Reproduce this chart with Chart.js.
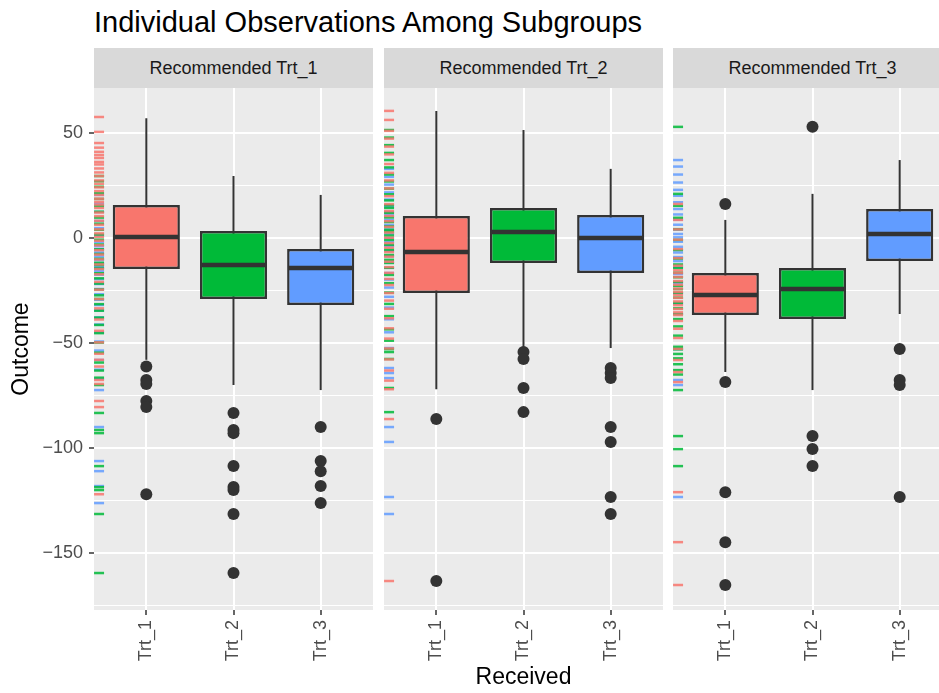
<!DOCTYPE html>
<html>
<head>
<meta charset="utf-8">
<script src="https://cdn.jsdelivr.net/npm/chart.js@4/dist/chart.umd.min.js"></script>
<style>
body { margin:0; width:939px; height:693px; overflow:hidden; background:#fff; font-family:'Liberation Sans', Arial, sans-serif; position:relative; }
.title { position:absolute; left:94px; top:8px; font-size:29px; line-height:29px; color:#000; white-space:nowrap; }
.strip { position:absolute; top:48px; height:40px; line-height:40px; background:#d9d9d9; color:#1a1a1a; font-size:18px; text-align:center; white-space:nowrap; overflow:hidden; }
canvas { position:absolute; top:88px; }
</style>
</head>
<body>
<div class="title">Individual Observations Among Subgroups</div>
<div class="strip" style="left:94px;width:279px">Recommended Trt_1</div>
<div class="strip" style="left:384px;width:279px">Recommended Trt_2</div>
<div class="strip" style="left:673px;width:279px">Recommended Trt_3</div>
<canvas id="c1" width="373" height="605" style="left:0"></canvas>
<canvas id="c2" width="279" height="605" style="left:384px"></canvas>
<canvas id="c3" width="279" height="605" style="left:673px"></canvas>
<script>
const received = ['Trt_1', 'Trt_2', 'Trt_3'];
const colors = ['#F8766D', '#00BA38', '#619CFF'];
const rugColors = ['rgba(248,118,109,0.85)', 'rgba(0,186,56,0.85)', 'rgba(97,156,255,0.85)'];
const yTicks = [-175, -150, -125, -100, -75, -50, -25, 0, 25, 50];

// Recommended Trt_1
const p1Low = [-58.0, -70.0, -72.4];
const p1Q1 = [-14.8, -29.0, -31.9];
const p1Median = [0.5, -12.9, -14.3];
const p1Q3 = [15.7, 3.3, -5.2];
const p1High = [57.0, 29.5, 20.5];
const p1Outliers = [
  [-61.2, -67.6, -69.5, -77.6, -80.5, -122.0],
  [-83.3, -91.4, -92.9, -108.6, -118.6, -120.0, -131.4, -159.5],
  [-90.0, -106.2, -111.0, -118.1, -126.2]
];
const p1RugTrt1 = [57.6, 50.5, 45.2, 43.0, 41.0, 39.5, 38.1, 36.2, 35.0, 33.1, 31.2, 29.5, 27.4, 25.8, 24.1, 22.3, 20.5, 18.7, 17.2, 15.9, 14.3, 12.1, 10.4, 8.2, 6.3, 4.1, 2.2, 0.5, -1.3, -3.5, -5.8, -7.9, -10.2, -12.6, -14.8, -17.3, -20.9, -24.6, -29.1, -33.5, -38.8, -44.2, -49.7, -55.1, -58.0, -61.2, -67.6, -69.5, -77.6, -80.5, -122.0];
const p1RugTrt2 = [29.5, 27.0, 24.4, 21.3, 18.6, 15.2, 12.5, 9.7, 6.8, 3.9, 1.6, -0.8, -3.1, -5.4, -7.6, -9.9, -11.8, -12.9, -14.5, -16.8, -19.2, -21.7, -24.5, -27.3, -29.0, -31.5, -34.6, -37.9, -41.4, -45.3, -49.8, -54.6, -59.3, -63.1, -66.5, -70.0, -83.3, -91.4, -92.9, -108.6, -118.6, -120.0, -131.4, -159.5];
const p1RugTrt3 = [20.5, 16.3, 12.4, 8.1, 4.7, 1.2, -1.9, -3.8, -5.2, -6.9, -8.8, -10.5, -12.2, -13.6, -14.3, -15.8, -17.5, -19.6, -21.9, -24.3, -26.8, -29.4, -31.9, -34.5, -37.8, -41.2, -45.0, -49.3, -53.6, -58.1, -62.7, -67.0, -72.4, -90.0, -106.2, -111.0, -118.1, -126.2];

// Recommended Trt_2
const p2Low = [-72.0, -52.9, -52.4];
const p2Q1 = [-26.2, -11.9, -16.7];
const p2Median = [-6.7, 2.9, 0.0];
const p2Q3 = [10.5, 14.3, 11.0];
const p2High = [60.5, 51.4, 32.9];
const p2Outliers = [
  [-86.2, -163.3],
  [-54.3, -57.6, -71.4, -82.9],
  [-61.9, -64.3, -66.7, -90.0, -97.1, -123.3, -131.4]
];
const p2RugTrt1 = [60.5, 56.2, 51.0, 47.3, 43.5, 39.8, 35.2, 31.0, 27.4, 23.6, 19.9, 16.1, 12.8, 10.5, 8.0, 5.3, 2.6, 0.1, -2.4, -4.6, -6.7, -8.9, -11.3, -13.9, -16.6, -19.5, -22.4, -26.2, -29.8, -33.7, -38.2, -43.0, -47.9, -52.6, -57.8, -63.1, -67.9, -72.0, -86.2, -163.3];
const p2RugTrt2 = [51.4, 47.8, 44.2, 40.5, 37.1, 33.6, 30.2, 26.9, 23.5, 20.8, 17.9, 15.6, 14.3, 12.0, 9.8, 7.6, 5.5, 3.9, 2.9, 1.2, -0.9, -3.2, -5.6, -8.1, -10.4, -11.9, -14.2, -17.6, -21.5, -26.0, -31.4, -37.2, -43.5, -48.9, -52.9, -54.3, -57.6, -71.4, -82.9];
const p2RugTrt3 = [32.9, 29.1, 25.4, 21.7, 18.3, 15.0, 12.4, 11.0, 8.6, 6.2, 4.0, 2.1, 0.0, -1.9, -3.8, -6.1, -8.7, -11.5, -14.2, -16.7, -19.8, -23.6, -28.0, -33.1, -38.7, -44.9, -52.4, -61.9, -64.3, -66.7, -90.0, -97.1, -123.3, -131.4];

// Recommended Trt_3
const p3Low = [-63.8, -72.4, -36.2];
const p3Q1 = [-36.7, -38.6, -11.0];
const p3Median = [-27.1, -24.3, 1.9];
const p3Q3 = [-16.7, -14.3, 13.8];
const p3High = [8.6, 21.0, 37.1];
const p3Outliers = [
  [16.2, -68.6, -121.0, -144.8, -165.2],
  [52.9, -94.3, -100.5, -108.6],
  [-52.9, -67.6, -70.0, -123.3]
];
const p3RugTrt1 = [16.2, 8.6, 4.1, -0.8, -5.3, -9.6, -13.2, -15.4, -16.7, -18.6, -20.5, -22.3, -24.1, -25.6, -27.1, -28.5, -30.2, -32.0, -33.8, -35.4, -36.7, -39.5, -43.2, -47.6, -52.8, -58.1, -63.8, -68.6, -121.0, -144.8, -165.2];
const p3RugTrt2 = [52.9, 21.0, 15.3, 9.6, 4.2, -0.9, -5.7, -9.8, -12.6, -14.3, -16.5, -18.7, -20.9, -22.8, -24.3, -26.1, -28.4, -30.9, -33.5, -36.2, -38.6, -42.1, -46.5, -51.8, -53.0, -55.2, -57.3, -60.1, -62.9, -65.0, -72.4, -94.3, -100.5, -108.6];
const p3RugTrt3 = [37.1, 34.0, 30.2, 26.4, 22.9, 20.1, 17.0, 13.8, 11.2, 8.7, 6.3, 4.0, 1.9, 0.3, -1.8, -4.2, -6.9, -9.1, -11.0, -13.8, -17.2, -21.5, -26.3, -31.2, -36.2, -52.9, -67.6, -70.0, -123.3];

const xMin = 0.4, xMax = 3.6, yMin = -177.1, yMax = 71.4;
const dark = '#333333';
const fontFam = "'Liberation Sans', Arial, sans-serif";

const panelBg = {
  id: 'panelBg',
  beforeDraw(chart) {
    const a = chart.chartArea, c = chart.ctx;
    c.save();
    c.fillStyle = '#ebebeb';
    c.fillRect(a.left, a.top, a.right - a.left, a.bottom - a.top);
    c.restore();
  }
};

function fmt(v) {
  return v < 0 ? '\u2212' + Math.abs(v) : String(v);
}

function buildConfig(low, q1, med, q3, high, outliers, rugs, first, middle) {
  const ds = [];
  received.forEach((r, i) => {
    const x = i + 1;
    ds.push({
      type: 'scatter', order: 0,
      data: outliers[i].map(v => ({ x: x, y: v })),
      pointRadius: 6, backgroundColor: dark, borderWidth: 0
    });
    ds.push({
      type: 'scatter', order: 1, showLine: true,
      data: [{ x: x - 0.375, y: med[i] }, { x: x + 0.375, y: med[i] }],
      pointRadius: 0, borderColor: dark, borderWidth: 4.5, borderCapStyle: 'butt'
    });
    ds.push({
      type: 'scatter', order: 3, showLine: true,
      data: [{ x: x, y: low[i] }, { x: x, y: high[i] }],
      pointRadius: 0, borderColor: dark, borderWidth: 2
    });
    ds.push({
      type: 'scatter', order: 4,
      data: rugs[i].map(v => ({ x: xMin + 0.058, y: v })),
      pointStyle: 'line', pointRadius: 5, borderWidth: 2.5,
      borderColor: rugColors[i], backgroundColor: rugColors[i]
    });
  });
  ds.push({
    type: 'bar', order: 2,
    data: received.map((r, i) => ({ x: i + 1, y: [q1[i], q3[i]] })),
    backgroundColor: colors, borderColor: dark, borderWidth: 2.5,
    borderSkipped: false, categoryPercentage: 1, barPercentage: 0.77
  });
  return {
    type: 'scatter',
    data: { datasets: ds },
    options: {
      responsive: false, animation: false, devicePixelRatio: 1,
      layout: { padding: 0, autoPadding: false },
      plugins: { legend: { display: false }, tooltip: { enabled: false } },
      scales: {
        x: {
          type: 'linear', min: xMin, max: xMax, offset: false,
          afterBuildTicks: s => { s.ticks = [1, 2, 3].map(v => ({ value: v })); },
          afterFit: s => { s.height = 83; s.paddingLeft = 0; s.paddingRight = 0; },
          grid: { color: '#ffffff', lineWidth: 2, tickLength: 5, tickColor: dark, tickWidth: 1.5, offset: false },
          border: { display: false },
          ticks: {
            minRotation: 90, maxRotation: 90, padding: 5, color: '#4d4d4d',
            font: { family: fontFam, size: 18 },
            callback: v => received[v - 1] || ''
          },
          title: {
            display: middle, text: 'Received', color: '#000',
            font: { family: fontFam, size: 23 }, padding: { top: 0, bottom: 2 }
          }
        },
        y: {
          type: 'linear', min: yMin, max: yMax,
          afterBuildTicks: s => { s.ticks = yTicks.map(v => ({ value: v })); },
          afterFit: s => { s.width = first ? 94 : 0; s.paddingTop = 0; s.paddingBottom = 0; },
          grid: {
            color: '#ffffff',
            lineWidth: c => (c.tick && c.tick.value % 50 === 0) ? 2 : 1,
            drawTicks: first, tickLength: 5, tickWidth: 1.5,
            tickColor: c => (c.tick && c.tick.value % 50 === 0) ? dark : 'rgba(0,0,0,0)'
          },
          border: { display: false },
          ticks: {
            display: first, padding: 6, color: '#4d4d4d',
            font: { family: fontFam, size: 18 },
            callback: v => v % 50 === 0 ? fmt(v) : ''
          },
          title: {
            display: first, text: 'Outcome', color: '#000',
            font: { family: fontFam, size: 23 }, padding: { top: 8, bottom: 0 }
          }
        }
      }
    },
    plugins: [panelBg]
  };
}

new Chart(document.getElementById('c1'), buildConfig(p1Low, p1Q1, p1Median, p1Q3, p1High, p1Outliers, [p1RugTrt1, p1RugTrt2, p1RugTrt3], true, false));
new Chart(document.getElementById('c2'), buildConfig(p2Low, p2Q1, p2Median, p2Q3, p2High, p2Outliers, [p2RugTrt1, p2RugTrt2, p2RugTrt3], false, true));
new Chart(document.getElementById('c3'), buildConfig(p3Low, p3Q1, p3Median, p3Q3, p3High, p3Outliers, [p3RugTrt1, p3RugTrt2, p3RugTrt3], false, false));
</script>
</body>
</html>
